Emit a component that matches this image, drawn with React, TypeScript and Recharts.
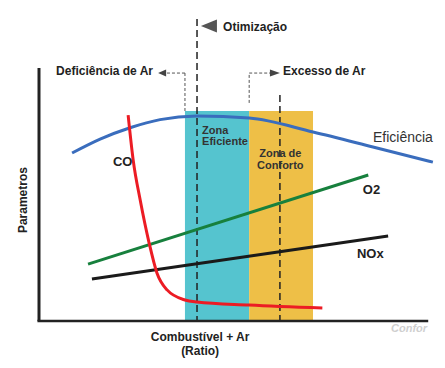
import React from 'react';
import {
  ComposedChart,
  Line,
  XAxis,
  YAxis,
  ReferenceArea,
  ReferenceLine,
  ReferenceDot,
} from 'recharts';

// x: combustível + ar ratio (0..100 along the axis), y: parâmetro (0..100)
const efficiencyX = [8.5, 15.7, 23.4, 31.1, 40.6, 54.0, 70.4, 85.8, 101.2];
const efficiencyY = [66.4, 71.9, 76.4, 79.6, 81.0, 80.2, 74.7, 68.8, 62.8];

const coX = [22.9, 24.2, 26.0, 28.3, 30.3, 32.9, 37.5, 40.6, 54.0, 72.8];
const coY = [81.4, 63.6, 47.8, 30.8, 19.0, 12.3, 8.3, 7.5, 6.3, 5.1];

const o2X = [12.6, 84.6];
const o2Y = [22.5, 57.7];

const noxX = [13.6, 89.7];
const noxY = [16.6, 33.6];

const zoneNames = ['Zona Eficiente', 'Zona de Conforto'];
const zoneFrom = [37.5, 54.0];
const zoneTo = [54.0, 70.4];
const zoneTop = 83.0;

const optimumX = 40.6;
const comfortMarkX = 61.9;

const toPoints = (xs: number[], ys: number[]) => xs.map((x, i) => ({ x, y: ys[i] }));

const FONT = "Arial, 'Liberation Sans', Helvetica, sans-serif";

type Note = {
  x: number;
  y: number;
  lines: string[];
  size: number;
  weight?: string;
  color?: string;
  anchor?: 'start' | 'middle' | 'end';
  italic?: boolean;
  rotate?: boolean;
  lead?: number;
};

const NOTES: Note[] = [
  { x: 47.3, y: 114.6, lines: ['Otimização'], size: 12 },
  { x: 29.3, y: 97.2, lines: ['Deficiência de Ar'], size: 12, anchor: 'end' },
  { x: 62.7, y: 97.2, lines: ['Excesso de Ar'], size: 12 },
  { x: 41.9, y: 73.9, lines: ['Zona', 'Eficiente'], size: 11, color: '#333', lead: 11 },
  { x: 62.0, y: 64.7, lines: ['Zona de', 'Conforto'], size: 11, color: '#333', anchor: 'middle', lead: 12 },
  { x: 85.8, y: 70.8, lines: ['Eficiência'], size: 14, weight: 'normal', color: '#333' },
  { x: 19.0, y: 61.3, lines: ['CO'], size: 13 },
  { x: 83.2, y: 50.2, lines: ['O2'], size: 13 },
  { x: 81.7, y: 24.9, lines: ['NOx'], size: 13 },
  { x: -3.9, y: 47.8, lines: ['Parametros'], size: 12, anchor: 'middle', rotate: true },
  { x: 41.4, y: -7.9, lines: ['Combustível + Ar', '(Ratio)'], size: 12, anchor: 'middle', lead: 14 },
  { x: 99.7, y: -4.3, lines: ['Confor'], size: 11, color: '#cfcfcf', anchor: 'end', italic: true },
];

const renderNote = (n: Note) => (p: any) => {
  const tr = n.rotate ? `rotate(-90 ${p.cx} ${p.cy})` : undefined;
  return (
    <text
      x={p.cx}
      y={p.cy}
      transform={tr}
      textAnchor={n.anchor || 'start'}
      dominantBaseline={n.rotate ? 'middle' : undefined}
      fontSize={n.size}
      fontWeight={n.weight || 'bold'}
      fontStyle={n.italic ? 'italic' : 'normal'}
      fill={n.color || '#222'}
      fontFamily={FONT}
    >
      {n.lines.map((l, i) => (
        <tspan key={i} x={p.cx} dy={i === 0 ? 0 : n.lead || 12}>
          {l}
        </tspan>
      ))}
    </text>
  );
};

const arrowLeft = (w: number, h: number, fill: string) => (p: any) => (
  <polygon
    points={`${p.cx},${p.cy} ${p.cx + w},${p.cy - h} ${p.cx + w},${p.cy + h}`}
    fill={fill}
  />
);

const arrowRight = (w: number, h: number, fill: string) => (p: any) => (
  <polygon
    points={`${p.cx},${p.cy} ${p.cx - w},${p.cy - h} ${p.cx - w},${p.cy + h}`}
    fill={fill}
  />
);

const connector = { stroke: '#555', strokeWidth: 1, strokeDasharray: '3 2' };

export default function App() {
  return (
    <div style={{ position: 'absolute', left: 0, top: 0, background: '#fff', fontFamily: FONT }}>
      <ComposedChart width={445} height={368} margin={{ top: 68, right: 9, bottom: 47, left: 39 }}>
        <XAxis type="number" dataKey="x" domain={[0, 102]} allowDataOverflow hide />
        <YAxis type="number" dataKey="y" domain={[0, 100]} allowDataOverflow hide />

        <ReferenceArea x1={zoneFrom[0]} x2={zoneTo[0]} y1={0} y2={zoneTop} fill="#55c4cf" fillOpacity={1} stroke="none" />
        <ReferenceArea x1={zoneFrom[1]} x2={zoneTo[1]} y1={0} y2={zoneTop} fill="#eebf47" fillOpacity={1} stroke="none" />

        <ReferenceLine
          segment={[{ x: optimumX, y: 119.4 }, { x: optimumX, y: 0 }]}
          stroke="#222"
          strokeWidth={1.5}
          strokeDasharray="7 4"
          ifOverflow="visible"
        />
        <ReferenceLine
          segment={[{ x: comfortMarkX, y: 89.3 }, { x: comfortMarkX, y: 0 }]}
          stroke="#222"
          strokeWidth={1.5}
          strokeDasharray="7 4"
          ifOverflow="visible"
        />

        <ReferenceLine segment={[{ x: zoneFrom[0], y: zoneTop }, { x: zoneFrom[0], y: 98.0 }]} {...connector} ifOverflow="visible" />
        <ReferenceLine segment={[{ x: zoneFrom[0], y: 98.0 }, { x: 32.6, y: 98.0 }]} {...connector} ifOverflow="visible" />
        <ReferenceDot x={30.6} y={98.0} ifOverflow="visible" shape={arrowLeft(8, 3.5, '#444')} />

        <ReferenceLine segment={[{ x: zoneFrom[1], y: 86.2 }, { x: zoneFrom[1], y: 98.0 }]} {...connector} ifOverflow="visible" />
        <ReferenceLine segment={[{ x: zoneFrom[1], y: 98.0 }, { x: 59.4, y: 98.0 }]} {...connector} ifOverflow="visible" />
        <ReferenceDot x={61.9} y={98.0} ifOverflow="visible" shape={arrowRight(10, 3.5, '#444')} />

        <ReferenceDot x={41.6} y={116.6} ifOverflow="visible" shape={arrowLeft(16, 6.5, '#555')} />

        <Line data={toPoints(efficiencyX, efficiencyY)} dataKey="y" type="monotone" stroke="#3a6dbd" strokeWidth={3} dot={false} isAnimationActive={false} />
        <Line data={toPoints(o2X, o2Y)} dataKey="y" type="linear" stroke="#17803d" strokeWidth={3} dot={false} isAnimationActive={false} />
        <Line data={toPoints(noxX, noxY)} dataKey="y" type="linear" stroke="#1a1a1a" strokeWidth={3} dot={false} isAnimationActive={false} />
        <Line data={toPoints(coX, coY)} dataKey="y" type="monotone" stroke="#ec1c24" strokeWidth={3} dot={false} isAnimationActive={false} />

        <ReferenceLine segment={[{ x: 0, y: 0 }, { x: 0, y: 100 }]} stroke="#222" strokeWidth={3} ifOverflow="visible" />
        <ReferenceLine segment={[{ x: -0.4, y: 0 }, { x: 100, y: 0 }]} stroke="#222" strokeWidth={2.5} ifOverflow="visible" />

        {NOTES.map((n, i) => (
          <ReferenceDot key={i} x={n.x} y={n.y} ifOverflow="visible" shape={renderNote(n)} />
        ))}
      </ComposedChart>
    </div>
  );
}
